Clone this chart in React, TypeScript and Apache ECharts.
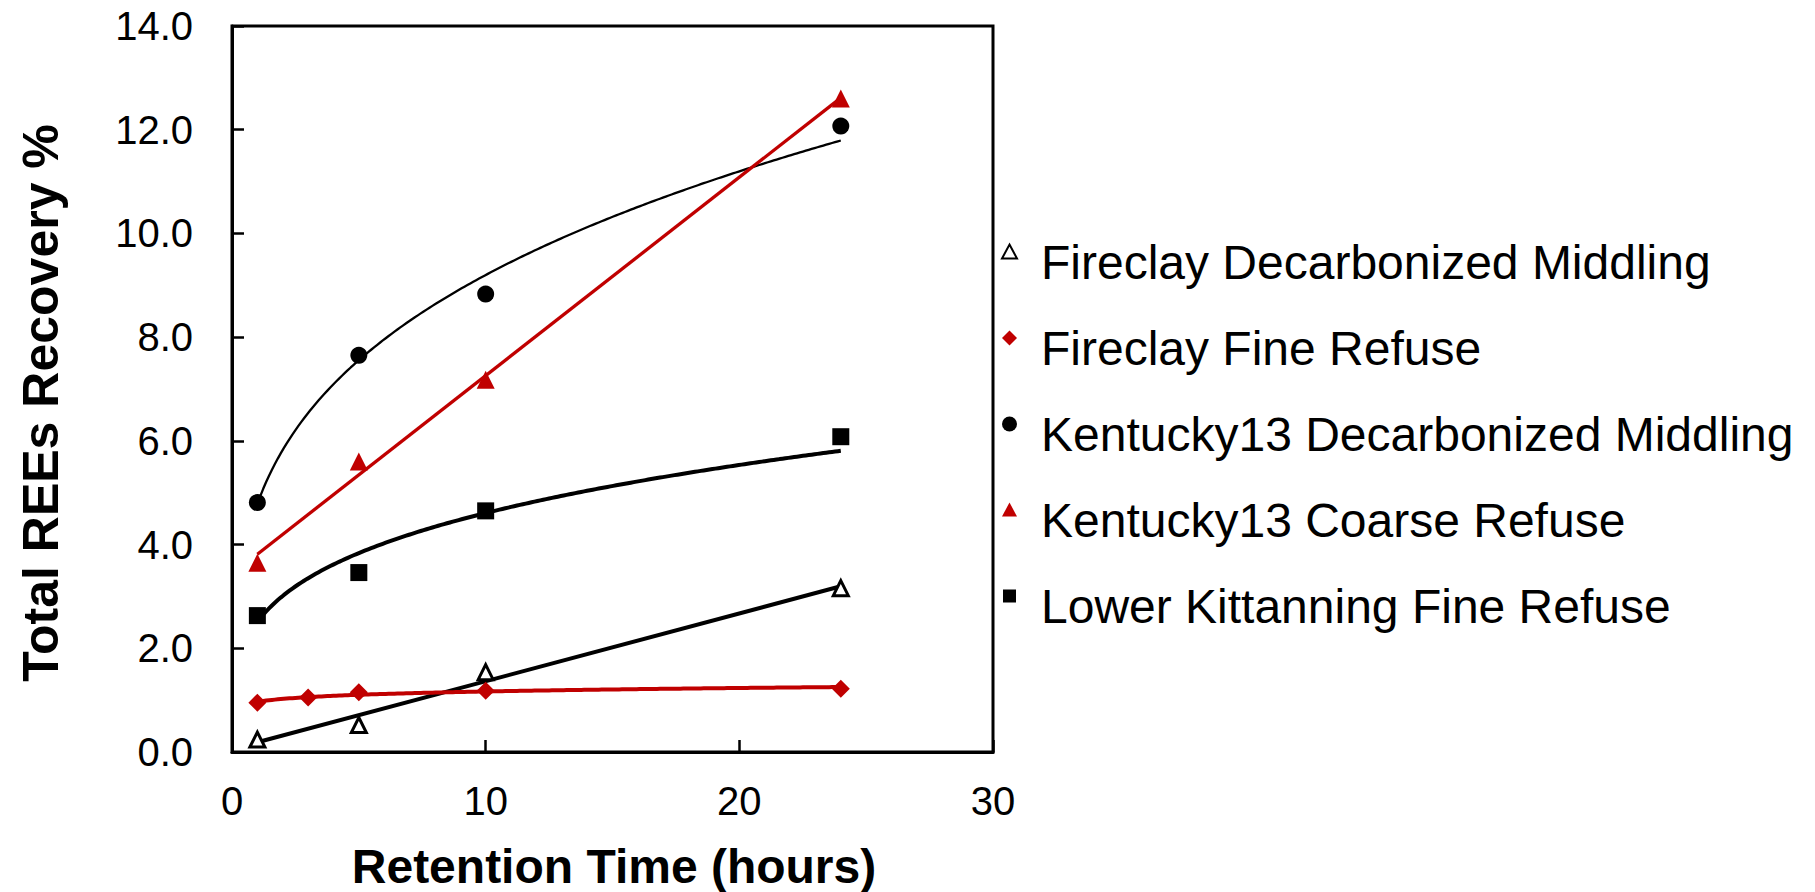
import React, { useEffect, useRef } from "react";
import * as echarts from "echarts";

// ---- data ----
const timesMain = [1, 5, 10, 24];
const timesFine = [1, 3, 5, 10, 24];

const fireclayDecarbMiddling = [0.24, 0.52, 1.54, 3.16];
const fireclayFineRefuse = [0.95, 1.05, 1.15, 1.18, 1.22];
const kentuckyDecarbMiddling = [4.81, 7.65, 8.83, 12.07];
const kentuckyCoarseRefuse = [3.65, 5.6, 7.18, 12.6];
const lowerKittanningFineRefuse = [2.63, 3.46, 4.65, 6.08];

const seriesNames = [
  "Fireclay Decarbonized Middling",
  "Fireclay Fine Refuse",
  "Kentucky13 Decarbonized Middling",
  "Kentucky13 Coarse Refuse",
  "Lower Kittanning Fine Refuse",
];

const xAxisTitle = "Retention Time (hours)";
const yAxisTitle = "Total REEs Recovery %";

// ---- trendline helpers (least-squares fits, like the spreadsheet trendlines) ----
function linearFit(xs: number[], ys: number[]) {
  const n = xs.length;
  const mx = xs.reduce((a, b) => a + b, 0) / n;
  const my = ys.reduce((a, b) => a + b, 0) / n;
  let sxx = 0, sxy = 0;
  for (let i = 0; i < n; i++) {
    sxx += (xs[i] - mx) ** 2;
    sxy += (xs[i] - mx) * (ys[i] - my);
  }
  const slope = sxy / sxx;
  const intercept = my - slope * mx;
  return (x: number) => slope * x + intercept;
}

function powerFit(xs: number[], ys: number[]) {
  const lx = xs.map(Math.log);
  const ly = ys.map(Math.log);
  const n = xs.length;
  const mx = lx.reduce((a, b) => a + b, 0) / n;
  const my = ly.reduce((a, b) => a + b, 0) / n;
  let sxx = 0, sxy = 0;
  for (let i = 0; i < n; i++) {
    sxx += (lx[i] - mx) ** 2;
    sxy += (lx[i] - mx) * (ly[i] - my);
  }
  const b = sxy / sxx;
  const c = Math.exp(my - b * mx);
  return (x: number) => c * Math.pow(x, b);
}

function trend(f: (x: number) => number, x0: number, x1: number, steps: number) {
  const pts: number[][] = [];
  for (let i = 0; i <= steps; i++) {
    const x = x0 + ((x1 - x0) * i) / steps;
    pts.push([x, f(x)]);
  }
  return pts;
}

const pair = (xs: number[], ys: number[]) => xs.map((x, i) => [x, ys[i]]);

const RED = "#C00000";
const FONT = "'Liberation Sans', Arial, sans-serif";

// legend icons: shape in the upper-left of a 34x35 box so the marker sits left of
// and slightly above the centre of its label (the trailing M extends the box)
const EXT = " M34,35";
const legendIcons = [
  "path://M7.5,0 L15,14 L0,14 Z" + EXT,
  "path://M7.5,0 L15,7.5 L7.5,15 L0,7.5 Z" + EXT,
  "path://M0,7.5 A7.5,7.5 0 1 1 15,7.5 A7.5,7.5 0 1 1 0,7.5 Z" + EXT,
  "path://M7.5,0 L15,14 L0,14 Z" + EXT,
  "path://M1,1 L14,1 L14,14 L1,14 Z M0,0" + EXT,
];

export default function App() {
  const ref = useRef<HTMLDivElement>(null);

  useEffect(() => {
    if (!ref.current) return;
    const chart = echarts.init(ref.current, undefined, { renderer: "svg" });

    const tFDM = linearFit(timesMain, fireclayDecarbMiddling);
    const tFFR = powerFit(timesFine, fireclayFineRefuse);
    const tKDM = powerFit(timesMain, kentuckyDecarbMiddling);
    const tKCR = linearFit(timesMain, kentuckyCoarseRefuse);
    const tLKF = powerFit(timesMain, lowerKittanningFineRefuse);

    const lineSeries = (data: number[][], color: string, width: number) => ({
      type: "line",
      data,
      showSymbol: false,
      symbol: "none",
      smooth: false,
      lineStyle: { color, width, opacity: 1 },
      z: 2,
      silent: true,
      tooltip: { show: false },
    });

    const option: any = {
      animation: false,
      backgroundColor: "#ffffff",
      grid: {
        left: 232,
        top: 26,
        right: 822,
        bottom: 140,
        show: true,
        borderColor: "#000",
        borderWidth: 3,
        backgroundColor: "transparent",
      },
      graphic: [
        {
          type: "text",
          x: 614,
          y: 866,
          style: {
            text: xAxisTitle,
            font: `bold 48px ${FONT}`,
            fill: "#000",
            textAlign: "center",
            textVerticalAlign: "middle",
          },
        },
        {
          type: "text",
          x: 41,
          y: 403,
          rotation: Math.PI / 2,
          style: {
            text: yAxisTitle,
            font: `bold 50px ${FONT}`,
            fill: "#000",
            textAlign: "center",
            textVerticalAlign: "middle",
          },
        },
      ],
      xAxis: {
        type: "value",
        min: 0,
        max: 30,
        interval: 10,
        axisLine: { show: true, lineStyle: { color: "#000", width: 3 } },
        axisTick: { show: true, inside: true, length: 12, lineStyle: { color: "#000", width: 2.5 } },
        axisLabel: { fontFamily: FONT, fontSize: 40, color: "#000", margin: 29 },
        splitLine: { show: false },
      },
      yAxis: {
        type: "value",
        min: 0,
        max: 14,
        interval: 2,
        axisLine: { show: true, lineStyle: { color: "#000", width: 3 } },
        axisTick: { show: true, inside: true, length: 12, lineStyle: { color: "#000", width: 2.5 } },
        axisLabel: {
          fontFamily: FONT,
          fontSize: 40,
          color: "#000",
          margin: 39,
          formatter: (v: number) => v.toFixed(1),
        },
        splitLine: { show: false },
      },
      legend: {
        orient: "vertical",
        left: 996,
        top: 232,
        itemWidth: 34,
        itemHeight: 35,
        itemGap: 36,
        selectedMode: false,
        data: seriesNames.map((name, i) => ({ name, icon: legendIcons[i] })),
        textStyle: {
          fontFamily: FONT,
          fontSize: 48,
          color: "#000",
          lineHeight: 50,
        },
      },
      series: [
        lineSeries(trend(tFDM, 1, 24, 1), "#000", 4),
        lineSeries(trend(tFFR, 1, 24, 200), RED, 4),
        lineSeries(trend(tKDM, 1, 24, 200), "#000", 2.3),
        lineSeries(trend(tKCR, 1, 24, 1), RED, 3.3),
        lineSeries(trend(tLKF, 1, 24, 200), "#000", 4),
        {
          name: seriesNames[0],
          type: "scatter",
          data: pair(timesMain, fireclayDecarbMiddling),
          symbol: "triangle",
          symbolSize: 15,
          itemStyle: { color: "#fff", borderColor: "#000", borderWidth: 3, opacity: 1 },
          z: 4,
        },
        {
          name: seriesNames[1],
          type: "scatter",
          data: pair(timesFine, fireclayFineRefuse),
          symbol: "diamond",
          symbolSize: 18,
          itemStyle: { color: RED, opacity: 1 },
          z: 4,
        },
        {
          name: seriesNames[2],
          type: "scatter",
          data: pair(timesMain, kentuckyDecarbMiddling),
          symbol: "circle",
          symbolSize: 17,
          itemStyle: { color: "#000", opacity: 1 },
          z: 4,
        },
        {
          name: seriesNames[3],
          type: "scatter",
          data: pair(timesMain, kentuckyCoarseRefuse),
          symbol: "triangle",
          symbolSize: 18,
          itemStyle: { color: RED, opacity: 1 },
          z: 4,
        },
        {
          name: seriesNames[4],
          type: "scatter",
          data: pair(timesMain, lowerKittanningFineRefuse),
          symbol: "rect",
          symbolSize: 17,
          itemStyle: { color: "#000", opacity: 1 },
          z: 4,
        },
      ],
    };

    chart.setOption(option);
    return () => chart.dispose();
  }, []);

  return (
    <div
      ref={ref}
      style={{ position: "fixed", left: 0, top: 0, width: 1815, height: 892, background: "#fff" }}
    />
  );
}
